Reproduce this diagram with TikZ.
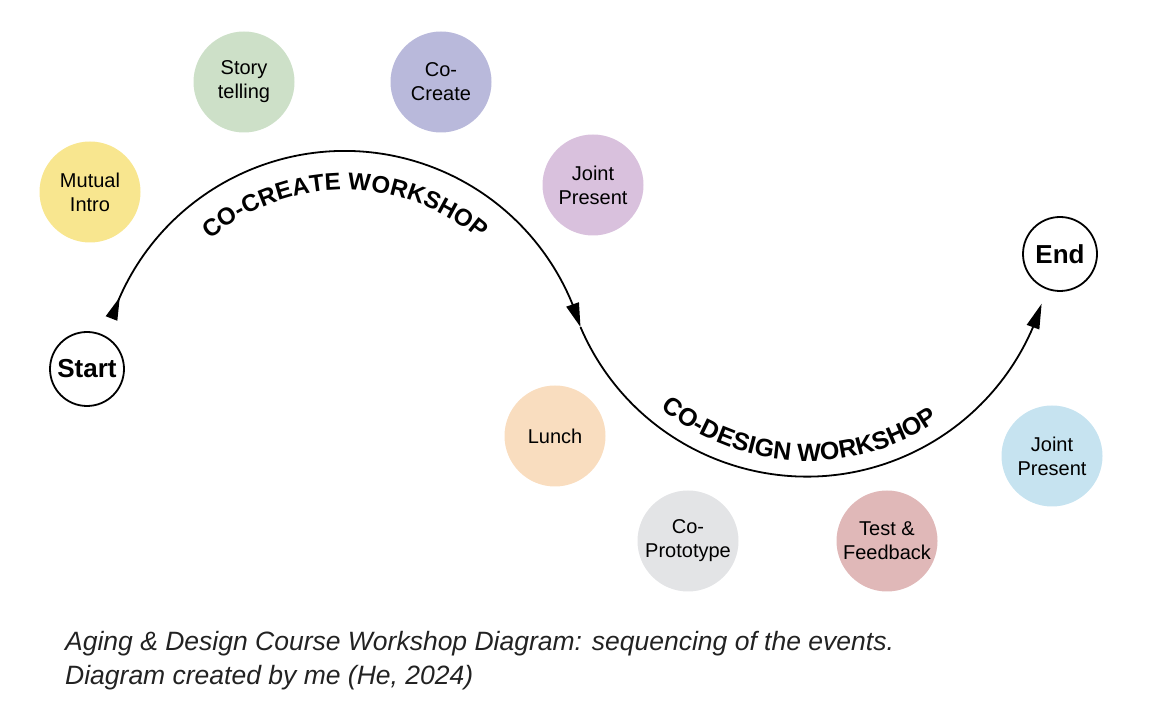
\documentclass[tikz,border=0pt]{standalone}
\usepackage{fontspec}
\setmainfont{Liberation Sans}
\usetikzlibrary{arrows.meta,bending,decorations.text}
\definecolor{cyellow}{HTML}{F8E68F}
\definecolor{cgreen}{HTML}{CDE0C8}
\definecolor{clav}{HTML}{B9B9DB}
\definecolor{cpurple}{HTML}{D9C1DD}
\definecolor{cpeach}{HTML}{F9DDBF}
\definecolor{cgray}{HTML}{E3E4E6}
\definecolor{cpink}{HTML}{E0B8B8}
\definecolor{cblue}{HTML}{C6E3F0}
\definecolor{captext}{HTML}{222222}
\begin{document}
\begin{tikzpicture}[x=1pt,y=1pt,
  event/.style={circle, minimum size=101pt, inner sep=0pt, align=center,
    font=\fontsize{20}{24}\selectfont},
  term/.style={circle, draw=black, line width=1.8pt, minimum size=74pt,
    inner sep=0pt, font=\fontsize{26}{26}\selectfont\bfseries},
  flow/.style={line width=1.8pt},
  captionstyle/.style={anchor=base west, inner sep=0pt, text=captext,
    font=\fontsize{26.5}{33}\selectfont\itshape},
  arclabel/.style 2 args={decorate, decoration={text along path, text align=center,
    text={|\fontsize{#1}{#1}\selectfont\bfseries|#2}}}
]
\useasboundingbox (0,0) rectangle (1164,720);

% event circles
\node[event, fill=cyellow] (mutual) at (90,528) {Mutual\\Intro};
\node[event, fill=cgreen]  (story)  at (244,638) {Story\\telling};
\node[event, fill=clav]    (cocreate) at (441,638) {Co-\\Create};
\node[event, fill=cpurple] (joint1) at (593,535) {Joint\\Present};
\node[event, fill=cpeach]  (lunch)  at (555,284) {Lunch};
\node[event, fill=cgray]   (coproto) at (688,179) {Co-\\Prototype};
\node[event, fill=cpink]   (test)   at (887,179) {Test \&\\Feedback};
\node[event, fill=cblue]   (joint2) at (1052,264) {Joint\\Present};

% start and end
\node[term] (start) at (87,351) {Start};
\node[term] (end) at (1060,466) {End};

% path
\coordinate (a1s) at (111.5,401.5);
\draw[flow, {Triangle[reversed,length=23pt,width=12pt]}-{Triangle[length=24pt,width=13pt]}]
  (a1s) arc[start angle=161.4, end angle=16.5, radius=246pt] coordinate (junc);
\draw[flow, -{Triangle[length=25pt,width=13pt]}]
  (junc) arc[start angle=203.1, end angle=342.7, radius=246pt] coordinate (a2e);

% arc labels
\coordinate (c1) at (345,323);
\coordinate (c2) at (808,490);
\path[arclabel={24}{CO-CREATE WORKSHOP}]
  ([shift={(160:207pt)}]c1) arc[start angle=160, end angle=20, radius=207pt];
\path[arclabel={25}{CO-DESIGN WORKSHOP}]
  ([shift={(200:231pt)}]c2) arc[start angle=200, end angle=335, radius=231pt];

% caption
\node[captionstyle] (cap1) at (65,69) {Aging \& Design Course Workshop Diagram: sequencing of the events.};
\node[captionstyle] (cap2) at (65,36) {Diagram created by me (He, 2024)};
\end{tikzpicture}
\end{document}
